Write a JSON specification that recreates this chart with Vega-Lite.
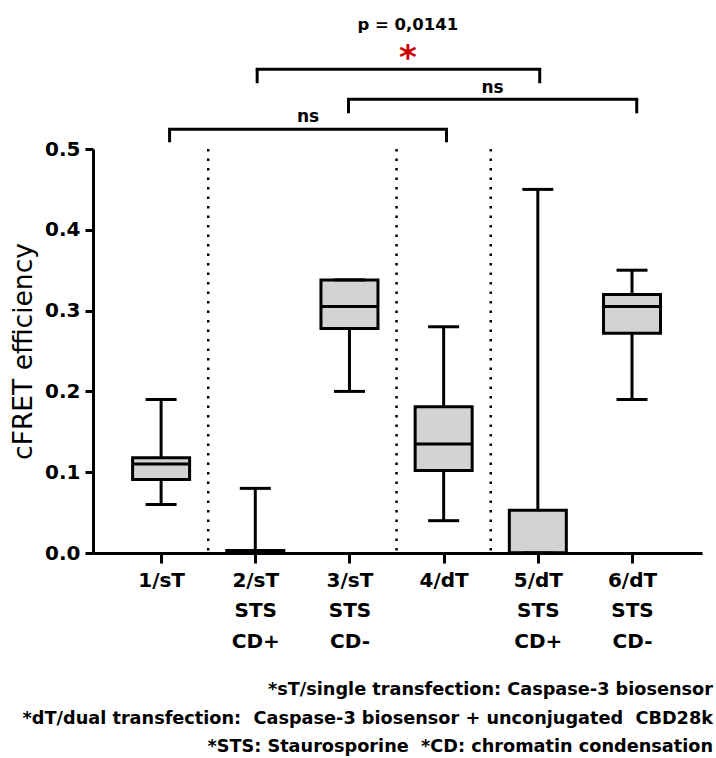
{
  "$schema": "https://vega.github.io/schema/vega-lite/v6.json",
  "width": 609,
  "height": 404,
  "autosize": {"type": "none"},
  "padding": {"left": 93, "top": 149, "right": 14, "bottom": 205},
  "background": "white",
  "config": {"view": {"stroke": null}, "font": "DejaVu Sans"},
  "title": {
    "text": ["*sT/single transfection: Caspase-3 biosensor", "*dT/dual transfection:\u00a0 Caspase-3 biosensor + unconjugated\u00a0 CBD28k", "*STS: Staurosporine\u00a0 *CD: chromatin condensation"],
    "orient": "bottom",
    "anchor": "end",
    "frame": "group",
    "align": "right",
    "font": "DejaVu Sans",
    "fontSize": 17.7,
    "fontWeight": "bold",
    "color": "black",
    "lineHeight": 28.5,
    "offset": 30,
    "dx": 11
  },
  "datasets": {
    "boxes": [
      {"g": 1, "group": "1/sT", "min": 0.06, "q1": 0.091, "median": 0.11, "q3": 0.118, "max": 0.19},
      {"g": 2, "group": "2/sT STS CD+", "min": 0.0, "q1": 0.0, "median": 0.0, "q3": 0.003, "max": 0.08},
      {"g": 3, "group": "3/sT STS CD-", "min": 0.2, "q1": 0.278, "median": 0.305, "q3": 0.338, "max": 0.338},
      {"g": 4, "group": "4/dT", "min": 0.04, "q1": 0.102, "median": 0.135, "q3": 0.181, "max": 0.28},
      {"g": 5, "group": "5/dT STS CD+", "min": 0.0, "q1": 0.0, "median": 0.0, "q3": 0.053, "max": 0.45},
      {"g": 6, "group": "6/dT STS CD-", "min": 0.19, "q1": 0.272, "median": 0.305, "q3": 0.32, "max": 0.35}
    ],
    "separators": [{"pos": 1.5}, {"pos": 3.5}, {"pos": 4.5}],
    "brackets": [
      {"x1": 1.09, "x2": 4.03, "y": 0.5244, "ytip": 0.5083},
      {"x1": 2.99, "x2": 6.05, "y": 0.5616, "ytip": 0.5442},
      {"x1": 2.02, "x2": 5.02, "y": 0.5987, "ytip": 0.5814}
    ],
    "nsLabels": [
      {"x": 2.56, "y": 0.533, "label": "ns"},
      {"x": 4.52, "y": 0.5695, "label": "ns"}
    ],
    "star": [{"x": 3.62, "y": 0.5985, "label": "*"}],
    "pval": [{"x": 3.62, "y": 0.647, "label": "p = 0,0141"}]
  },
  "layer": [
    {
      "data": {"name": "separators"},
      "mark": {"type": "rule", "color": "black", "strokeWidth": 2.5, "strokeDash": [2.5, 7]},
      "encoding": {
        "x": {
          "field": "pos",
          "type": "quantitative",
          "scale": {"domain": [0.33, 6.69], "nice": false, "zero": false},
          "axis": {
            "values": [1, 2, 3, 4, 5, 6],
            "labelExpr": "[['1/sT'],['2/sT','STS','CD+'],['3/sT','STS','CD-'],['4/dT'],['5/dT','STS','CD+'],['6/dT','STS','CD-']][datum.value - 1]",
            "title": null,
            "grid": false,
            "labelFont": "DejaVu Sans",
            "labelFontSize": 20,
            "labelFontWeight": "bold",
            "labelColor": "black",
            "labelLineHeight": 30.5,
            "labelPadding": 7,
            "labelFlush": false,
            "labelOverlap": false,
            "tickSize": 10,
            "tickWidth": 3,
            "tickColor": "black",
            "domainWidth": 3,
            "domainColor": "black"
          }
        }
      }
    },
    {
      "data": {"name": "boxes"},
      "mark": {"type": "rule", "color": "black", "strokeWidth": 3},
      "encoding": {
        "x": {"field": "g", "type": "quantitative"},
        "y": {
          "field": "min",
          "type": "quantitative",
          "scale": {"domain": [0, 0.5], "nice": false, "zero": false},
          "axis": {
            "values": [0, 0.1, 0.2, 0.3, 0.4, 0.5],
            "format": ".1f",
            "title": "cFRET efficiency",
            "titleFont": "DejaVu Sans",
            "titleFontSize": 26.5,
            "titleFontWeight": "normal",
            "titleColor": "black",
            "titlePadding": 7,
            "grid": false,
            "labelFont": "DejaVu Sans",
            "labelFontSize": 20,
            "labelFontWeight": "bold",
            "labelColor": "black",
            "labelPadding": 5,
            "labelFlush": false,
            "tickSize": 8,
            "tickWidth": 3,
            "tickColor": "black",
            "domainWidth": 3,
            "domainColor": "black"
          }
        },
        "y2": {"field": "max"}
      }
    },
    {
      "data": {"name": "boxes"},
      "mark": {"type": "bar", "size": 57, "fill": "#d3d3d3", "stroke": "black", "strokeWidth": 3},
      "encoding": {
        "x": {"field": "g", "type": "quantitative"},
        "y": {"field": "q1", "type": "quantitative"},
        "y2": {"field": "q3"}
      }
    },
    {
      "data": {"name": "boxes"},
      "mark": {"type": "tick", "orient": "horizontal", "size": 57, "thickness": 3, "color": "black", "opacity": 1},
      "encoding": {
        "x": {"field": "g", "type": "quantitative"},
        "y": {"field": "median", "type": "quantitative"}
      }
    },
    {
      "data": {"name": "boxes"},
      "transform": [{"fold": ["min", "max"], "as": ["stat", "val"]}],
      "mark": {"type": "tick", "orient": "horizontal", "size": 31, "thickness": 3, "color": "black", "opacity": 1},
      "encoding": {
        "x": {"field": "g", "type": "quantitative"},
        "y": {"field": "val", "type": "quantitative"}
      }
    },
    {
      "data": {"name": "brackets"},
      "mark": {"type": "rule", "color": "black", "strokeWidth": 3, "strokeCap": "square", "clip": false},
      "encoding": {
        "x": {"field": "x1", "type": "quantitative"},
        "x2": {"field": "x2"},
        "y": {"field": "y", "type": "quantitative"}
      }
    },
    {
      "data": {"name": "brackets"},
      "transform": [{"fold": ["x1", "x2"], "as": ["side", "xv"]}],
      "mark": {"type": "rule", "color": "black", "strokeWidth": 3, "clip": false},
      "encoding": {
        "x": {"field": "xv", "type": "quantitative"},
        "y": {"field": "y", "type": "quantitative"},
        "y2": {"field": "ytip"}
      }
    },
    {
      "data": {"name": "nsLabels"},
      "mark": {"type": "text", "font": "DejaVu Sans", "fontSize": 17, "fontWeight": "bold", "color": "black", "baseline": "alphabetic", "align": "center", "clip": false},
      "encoding": {
        "x": {"field": "x", "type": "quantitative"},
        "y": {"field": "y", "type": "quantitative"},
        "text": {"field": "label"}
      }
    },
    {
      "data": {"name": "star"},
      "mark": {"type": "text", "font": "DejaVu Sans", "fontSize": 34, "fontWeight": "bold", "color": "#cc0000", "baseline": "alphabetic", "align": "center", "clip": false},
      "encoding": {
        "x": {"field": "x", "type": "quantitative"},
        "y": {"field": "y", "type": "quantitative"},
        "text": {"field": "label"}
      }
    },
    {
      "data": {"name": "pval"},
      "mark": {"type": "text", "font": "DejaVu Sans", "fontSize": 16.5, "fontWeight": "bold", "color": "black", "baseline": "alphabetic", "align": "center", "clip": false},
      "encoding": {
        "x": {"field": "x", "type": "quantitative"},
        "y": {"field": "y", "type": "quantitative"},
        "text": {"field": "label"}
      }
    }
  ]
}
